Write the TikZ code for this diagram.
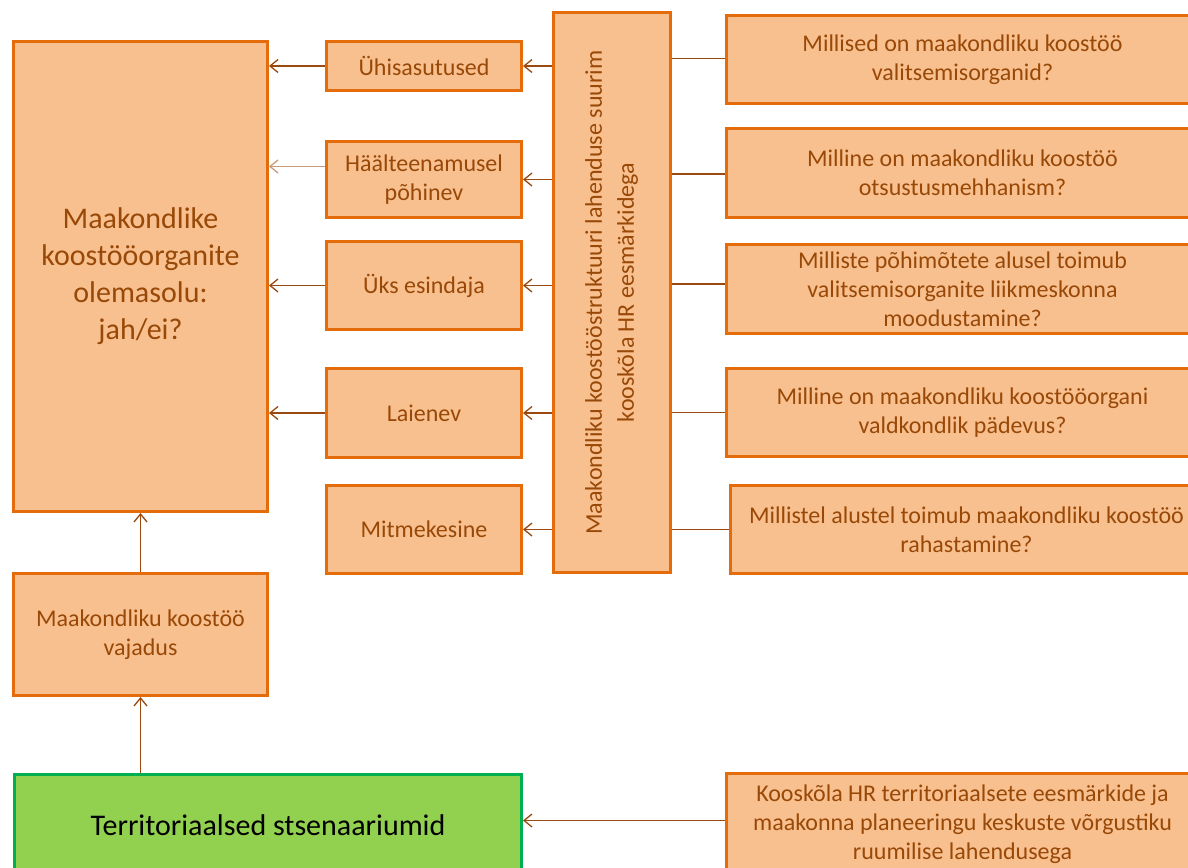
\documentclass[tikz,border=0pt]{standalone}
\usepackage{fontspec}
\setmainfont{Carlito}
\usetikzlibrary{arrows.meta,calc}
\definecolor{boxfill}{HTML}{F9C08F}
\definecolor{boxline}{HTML}{E46C0A}
\definecolor{boxtext}{HTML}{984807}
\definecolor{grfill}{HTML}{92D050}
\definecolor{grline}{HTML}{00B050}
\definecolor{connc}{HTML}{9A4A10}
\begin{document}
\begin{tikzpicture}[x=1pt,y=-1pt,
  obox/.style={draw=boxline, fill=boxfill, line width=3pt, text=boxtext,
    font=\fontsize{24}{29}\selectfont, align=center, inner sep=0pt, anchor=north west},
  gbox/.style={obox, draw=grline, fill=grfill, text=black, font=\fontsize{30}{37}\selectfont},
  conn/.style={draw=connc, line width=1.3pt},
  arr/.style={conn, -{Straight Barb[length=8pt,width=13pt]}}]
\clip (0,0) rectangle (1188,867);
% left column
\node[obox, minimum width=254pt, minimum height=470pt, font=\fontsize{30}{37}\selectfont] (big) at (12,40)
  {Maakondlike\\koostööorganite\\olemasolu:\\jah/ei?};
\node[obox, minimum width=254pt, minimum height=122pt] (vaj) at (12,572) {Maakondliku koostöö\\vajadus};
\node[gbox, minimum width=507pt, minimum height=102pt] (terr) at (13,773) {Territoriaalsed stsenaariumid};
% small boxes
\node[obox, minimum width=195pt, minimum height=49pt] (s1) at (325,40) {Ühisasutused};
\node[obox, minimum width=195pt, minimum height=76pt] (s2) at (325,140) {Häälteenamusel\\põhinev};
\node[obox, minimum width=195pt, minimum height=88pt] (s3) at (325,240) {Üks esindaja};
\node[obox, minimum width=195pt, minimum height=89pt] (s4) at (325,367) {Laienev};
\node[obox, minimum width=195pt, minimum height=88pt] (s5) at (325,484) {Mitmekesine};
% middle tall box
\node[obox, anchor=center, rotate=90, minimum width=559pt, minimum height=117pt,
  font=\fontsize{24}{32}\selectfont] (mid) at (611.5,292.5)
  {Maakondliku koostööstruktuuri lahenduse suurim\\kooskõla HR eesmärkidega};
% right boxes
\node[obox, minimum width=472pt, minimum height=88pt] (r1) at (725,14) {Millised on maakondliku koostöö\\valitsemisorganid?};
\node[obox, minimum width=472pt, minimum height=89pt] (r2) at (725,127) {Milline on maakondliku koostöö\\otsustusmehhanism?};
\node[obox, minimum width=472pt, minimum height=89pt] (r3) at (725,243) {Milliste põhimõtete alusel toimub\\valitsemisorganite liikmeskonna\\moodustamine?};
\node[obox, minimum width=472pt, minimum height=88pt] (r4) at (725,367) {Milline on maakondliku koostööorgani\\valdkondlik pädevus?};
\node[obox, minimum width=472pt, minimum height=88pt] (r5) at (729,484) {Millistel alustel toimub maakondliku koostöö\\rahastamine?};
\node[obox, minimum width=472pt, minimum height=102pt] (koos) at (725,772) {Kooskõla HR territoriaalsete eesmärkide ja\\maakonna planeeringu keskuste võrgustiku\\ruumilise lahendusega};
% connectors middle -> small
\draw[arr] (mid.north |- s1.east) -- (s1.east);
\draw[arr] (mid.north |- s2.east) -- (s2.east);
\draw[arr] (mid.north |- s3.east) -- (s3.east);
\draw[arr] (mid.north |- s4.east) -- (s4.east);
\draw[arr] (mid.north |- s5.east) -- (s5.east);
% small -> big
\draw[arr] (s1.west) -- (s1.west -| big.east);
\draw[arr, draw=connc!55] ([yshift=13pt]s2.west) -- ([yshift=13pt]s2.west -| big.east);
\draw[arr] (s3.west) -- (s3.west -| big.east);
\draw[arr] (s4.west) -- (s4.west -| big.east);
% right -> middle (plain lines)
\draw[conn] ([yshift=1pt]r1.west) -- ([yshift=1pt]r1.west -| mid.south);
\draw[conn] ([yshift=-1pt]r2.west) -- ([yshift=-1pt]r2.west -| mid.south);
\draw[conn] ([yshift=5pt]r3.west) -- ([yshift=5pt]r3.west -| mid.south);
\draw[conn] (r4.west) -- (r4.west -| mid.south);
\draw[conn] (r5.west) -- (r5.west -| mid.south);
% vertical flow
\draw[arr] (vaj.north) -- (big.south);
\draw[arr] (vaj.south |- terr.north) -- (vaj.south);
\draw[arr] ([yshift=4pt]koos.west) -- ([yshift=4pt]koos.west -| terr.east);
\end{tikzpicture}
\end{document}
